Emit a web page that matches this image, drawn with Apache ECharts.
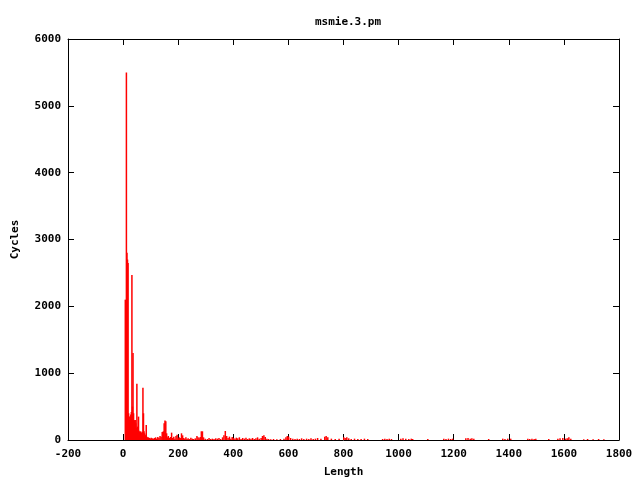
<!DOCTYPE html>
<html>
<head>
<meta charset="utf-8">
<script src="https://cdn.jsdelivr.net/npm/echarts@6/dist/echarts.min.js"></script>
<style>html,body{margin:0;padding:0;background:#fff}#c{width:640px;height:480px}</style>
</head>
<body>
<div id="c"></div>
<script>
var title = "msmie.3.pm";
var xName = "Length";
var yName = "Cycles";
var xTicks = [-200, 0, 200, 400, 600, 800, 1000, 1200, 1400, 1600, 1800];
var yTicks = [0, 1000, 2000, 3000, 4000, 5000, 6000];

var lengths = [
  8,10,12,14,16,18,20,22,24,26,28,30,32,34,36,38,40,42,44,46,48,50,52,54,56,58,60,62,64,66,
  68,70,72,74,76,78,80,82,84,86,88,90,92,94,96,99,102,106,110,114,118,122,126,130,134,138,142,146,149,152,
  155,158,161,164,168,172,176,180,184,188,192,196,200,204,208,212,216,220,224,228,232,236,240,246,251,256,262,268,272,276,
  280,284,288,292,298,306,312,318,324,330,336,342,348,354,361,366,371,376,381,386,391,396,401,406,411,416,422,428,434,440,
  446,452,458,464,470,476,482,488,494,501,506,511,516,522,528,536,546,558,571,584,591,596,601,608,616,624,632,640,648,656,
  666,674,682,690,698,706,718,732,737,743,756,770,784,801,806,812,819,828,840,852,864,876,888,942,950,958,966,974,1008,1016,
  1026,1037,1046,1051,1106,1164,1172,1181,1189,1196,1244,1252,1260,1266,1273,1327,1378,1386,1396,1407,1469,1476,1484,1492,1498,1545,1578,1586,1596,1606,
  1612,1618,1625,1672,1686,1706,1726,1745
];
var cycles = [
  2100,1400,5500,2800,2700,2650,400,350,300,350,380,420,2470,500,1300,400,300,280,300,250,180,840,200,150,350,140,120,100,130,110,
  90,120,780,400,130,100,80,60,225,50,40,30,40,20,30,20,35,25,20,30,40,20,45,30,60,50,120,130,250,290,
  280,100,40,60,30,45,110,30,50,20,60,80,25,40,30,100,70,30,20,40,15,25,15,35,20,15,25,60,40,25,
  45,130,130,40,20,15,30,15,20,15,25,20,30,15,40,70,135,60,30,50,20,45,30,20,35,25,40,15,30,20,
  35,15,25,20,30,15,25,40,20,30,60,70,45,20,15,10,15,10,15,20,40,60,50,30,20,15,20,15,25,15,
  20,15,25,15,20,30,20,50,60,40,20,15,20,40,30,40,25,15,20,15,15,20,15,15,20,15,20,15,20,25,
  20,15,20,15,15,20,15,20,15,20,25,30,20,25,20,15,20,15,20,20,20,15,20,15,20,15,20,25,30,20,
  25,40,20,10,15,10,15,10
];

var data = lengths.map(function (l, i) { return [l, cycles[i]]; });

var font = '"DejaVu Sans Mono", monospace';
var txt = {fontFamily: font, fontSize: 11, fontWeight: 'bold', color: '#000'};
var plain = function (v) { return String(v); };
var chart = echarts.init(document.getElementById('c'), null, {renderer: 'canvas'});
chart.setOption({
  animation: false,
  backgroundColor: '#fff',
  title: {
    text: title, left: 343, top: 12, textAlign: 'center',
    textStyle: txt
  },
  grid: {left: 68, right: 21, top: 39, bottom: 40, containLabel: false, outerBoundsMode: 'none'},
  xAxis: [{
    type: 'value', min: xTicks[0], max: xTicks[xTicks.length - 1], interval: 200,
    name: xName, nameLocation: 'middle', nameGap: 27,
    nameTextStyle: txt,
    axisLine: {onZero: false, lineStyle: {color: '#000', width: 1}},
    axisTick: {inside: true, length: 6, lineStyle: {color: '#000'}},
    axisLabel: Object.assign({margin: 9, formatter: plain}, txt),
    splitLine: {show: false}
  }, {
    type: 'value', position: 'top', min: xTicks[0], max: xTicks[xTicks.length - 1], interval: 200,
    axisLine: {show: true, onZero: false, lineStyle: {color: '#000', width: 1}},
    axisTick: {show: true, inside: true, length: 6, lineStyle: {color: '#000'}},
    axisLabel: {show: false}, splitLine: {show: false}
  }],
  yAxis: [{
    type: 'value', min: yTicks[0], max: yTicks[yTicks.length - 1], interval: 1000,
    name: yName, nameLocation: 'middle', nameGap: 47, nameRotate: 90,
    nameTextStyle: txt,
    axisLine: {show: true, onZero: false, lineStyle: {color: '#000', width: 1}},
    axisTick: {show: true, inside: true, length: 6, lineStyle: {color: '#000'}},
    axisLabel: Object.assign({margin: 7, formatter: plain}, txt),
    splitLine: {show: false}
  }, {
    type: 'value', position: 'right', min: yTicks[0], max: yTicks[yTicks.length - 1], interval: 1000,
    axisLine: {show: true, onZero: false, lineStyle: {color: '#000', width: 1}},
    axisTick: {show: true, inside: true, length: 6, lineStyle: {color: '#000'}},
    axisLabel: {show: false}, splitLine: {show: false}
  }],
  series: [{
    type: 'bar', data: data, barWidth: 1.5, xAxisIndex: 0, yAxisIndex: 0,
    itemStyle: {color: '#ff0000'}, z: 1
  }]
});
</script>
</body>
</html>
